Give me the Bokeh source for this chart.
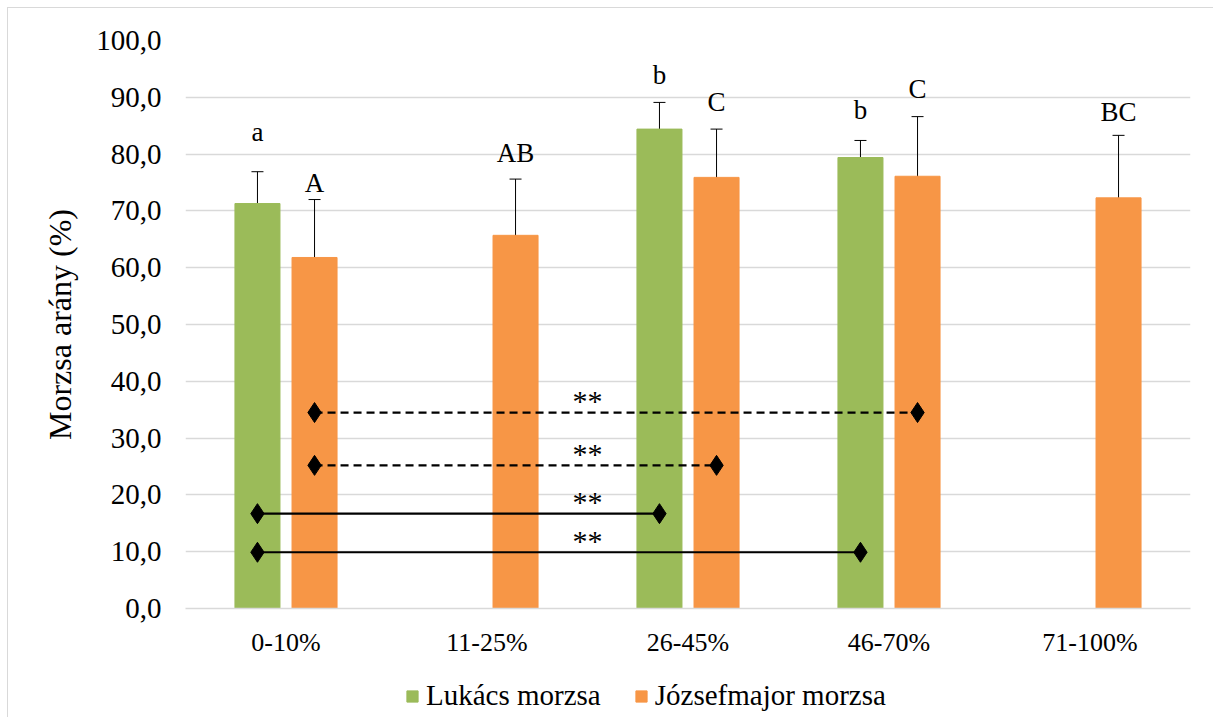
from bokeh.plotting import figure
from bokeh.layouts import column
from bokeh.models import (ColumnDataSource, Whisker, TeeHead, Legend, LegendItem,
                          CustomJSTickFormatter, FixedTicker, Range1d, FactorRange)
from bokeh.transform import dodge
from bokeh.core.properties import value
from bokeh.embed import file_html
from bokeh.resources import INLINE

# ---------------- data ----------------
categories = ["0-10%", "11-25%", "26-45%", "46-70%", "71-100%"]

lukacs_mean = [71.3, None, 84.4, 79.4, None]
lukacs_sd = [5.6, None, 4.7, 3.0, None]
lukacs_letters = ["a", None, "b", "b", None]
lukacs_letter_y = [83.9, None, 94.0, 87.7, None]

jozsef_mean = [61.8, 65.7, 75.9, 76.1, 72.3]
jozsef_sd = [10.2, 9.9, 8.5, 10.5, 11.0]
jozsef_letters = ["A", "AB", "C", "C", "BC"]
jozsef_letter_y = [74.9, 80.2, 89.1, 91.4, 87.4]

# significance comparisons (pairs of bars with "**")
sig_series = ["Józsefmajor", "Józsefmajor", "Lukács", "Lukács"]
sig_from = ["0-10%", "0-10%", "0-10%", "0-10%"]
sig_to = ["46-70%", "26-45%", "26-45%", "46-70%"]
sig_y = [34.5, 25.2, 16.7, 9.9]
sig_label = ["**", "**", "**", "**"]

series_names = ["Lukács morzsa", "Józsefmajor morzsa"]
y_ticks = [0, 10, 20, 30, 40, 50, 60, 70, 80, 90, 100]

GREEN = "#9BBB59"
ORANGE = "#F79646"
FONT = "Liberation Serif"
OFF = 0.142
BAR_W = 0.224
W = 1205


def series_source(means, sds, letters, letter_y):
    rows = [(c, m, s, l, ly) for c, m, s, l, ly in zip(categories, means, sds, letters, letter_y) if m is not None]
    return ColumnDataSource(dict(
        cat=[r[0] for r in rows],
        mean=[r[1] for r in rows],
        upper=[r[1] + r[2] for r in rows],
        lower=[r[1] - r[2] for r in rows],
        letter=[r[3] for r in rows],
        letter_y=[r[4] for r in rows],
    ))


src_l = series_source(lukacs_mean, lukacs_sd, lukacs_letters, lukacs_letter_y)
src_j = series_source(jozsef_mean, jozsef_sd, jozsef_letters, jozsef_letter_y)

p = figure(x_range=FactorRange(*categories), y_range=Range1d(0, 100),
           width=W, height=660, output_backend="svg", toolbar_location=None,
           min_border_left=177, min_border_right=23, min_border_top=32, min_border_bottom=60)

# bars
r_l = p.vbar(x=dodge("cat", -OFF, range=p.x_range), top="mean", width=BAR_W, source=src_l,
             fill_color=GREEN, line_color=GREEN)
r_j = p.vbar(x=dodge("cat", OFF, range=p.x_range), top="mean", width=BAR_W, source=src_j,
             fill_color=ORANGE, line_color=ORANGE)

# error bars
for src, off in ((src_l, -OFF), (src_j, OFF)):
    w = Whisker(source=src, base=dodge("cat", off, range=p.x_range), upper="upper", lower="lower",
                line_color="black", line_width=1,
                upper_head=TeeHead(size=12, line_color="black", line_width=1),
                lower_head=TeeHead(size=12, line_color="black", line_width=1))
    p.add_layout(w)

# letters
for src, off in ((src_l, -OFF), (src_j, OFF)):
    p.text(x=dodge("cat", off, range=p.x_range), y="letter_y", text="letter", source=src,
           text_align="center", text_baseline="middle", text_color="black",
           text_font=value(FONT), text_font_size="27px")

# significance lines
for name, off, dash in (("Józsefmajor", OFF, "8 5"), ("Lukács", -OFF, "solid")):
    idx = [i for i, s in enumerate(sig_series) if s == name]
    s = ColumnDataSource(dict(
        a=[sig_from[i] for i in idx], b=[sig_to[i] for i in idx],
        y=[sig_y[i] for i in idx],
    ))
    p.segment(x0=dodge("a", off, range=p.x_range), y0="y", x1=dodge("b", off, range=p.x_range), y1="y",
              source=s, line_color="black", line_width=2.2, line_dash=dash)
    p.scatter(x=dodge("a", off, range=p.x_range), y="y", source=s, marker="diamond", size=20,
              fill_color="black", line_color="black")
    p.scatter(x=dodge("b", off, range=p.x_range), y="y", source=s, marker="diamond", size=20,
              fill_color="black", line_color="black")

star_src = ColumnDataSource(dict(cat=["11-25%"] * len(sig_y), y=[v + 2.1 for v in sig_y], t=sig_label))
p.text(x=dodge("cat", 0.5, range=p.x_range), y="y", text="t", source=star_src,
       text_align="center", text_baseline="middle", text_color="black",
       text_font=value(FONT), text_font_size="30px")

# axes
p.yaxis.ticker = FixedTicker(ticks=y_ticks)
p.yaxis.formatter = CustomJSTickFormatter(code="return tick.toFixed(1).replace('.', ',');")
p.yaxis.axis_label = "Morzsa arány (%)"
p.yaxis.axis_label_text_font = FONT
p.yaxis.axis_label_text_font_size = "32px"
p.yaxis.axis_label_text_font_style = "normal"
p.yaxis.axis_label_text_color = "black"
p.yaxis.axis_label_standoff = 15
p.yaxis.major_label_text_font = FONT
p.yaxis.major_label_text_font_size = "29px"
p.yaxis.major_label_text_color = "black"
p.yaxis.major_label_standoff = 18
p.yaxis.axis_line_color = None
p.yaxis.major_tick_line_color = None
p.yaxis.minor_tick_line_color = None

p.xaxis.major_label_text_font = FONT
p.xaxis.major_label_text_font_size = "26px"
p.xaxis.major_label_text_color = "black"
p.xaxis.major_label_standoff = 13
p.xaxis.axis_line_color = "#d9d9d9"
p.xaxis.axis_line_width = 1.5
p.xaxis.major_tick_line_color = None
p.xaxis.minor_tick_line_color = None

p.xgrid.grid_line_color = None
p.ygrid.grid_line_color = "#d9d9d9"
p.ygrid.grid_line_width = 1.3
p.outline_line_color = None

# ---------------- legend strip ----------------
q = figure(width=W, height=49, x_range=Range1d(0, W), y_range=Range1d(0, 49),
           output_backend="svg", toolbar_location=None, min_border=0)
q.axis.visible = False
q.grid.visible = False
q.outline_line_color = None
# legend swatches only (no drawable data)
g_l = q.vbar(x=[float("nan")], top=[float("nan")], width=1, fill_color=GREEN, line_color=GREEN)
g_j = q.vbar(x=[float("nan")], top=[float("nan")], width=1, fill_color=ORANGE, line_color=ORANGE)

legend = Legend(items=[LegendItem(label=series_names[0], renderers=[g_l]),
                       LegendItem(label=series_names[1], renderers=[g_j])],
                orientation="horizontal", location=(220, 5),
                label_text_font=FONT, label_text_font_size="29px", label_text_color="black",
                glyph_width=14, glyph_height=14, label_standoff=7, spacing=33,
                padding=0, margin=0, border_line_color=None, background_fill_alpha=0)
q.add_layout(legend, "center")

layout = column(p, q, spacing=0,
                styles={"margin-left": "7px", "margin-top": "7px",
                        "border-left": "1px solid #d9d9d9", "border-top": "1px solid #d9d9d9"})

open("out.html", "w").write(file_html(layout, INLINE))
